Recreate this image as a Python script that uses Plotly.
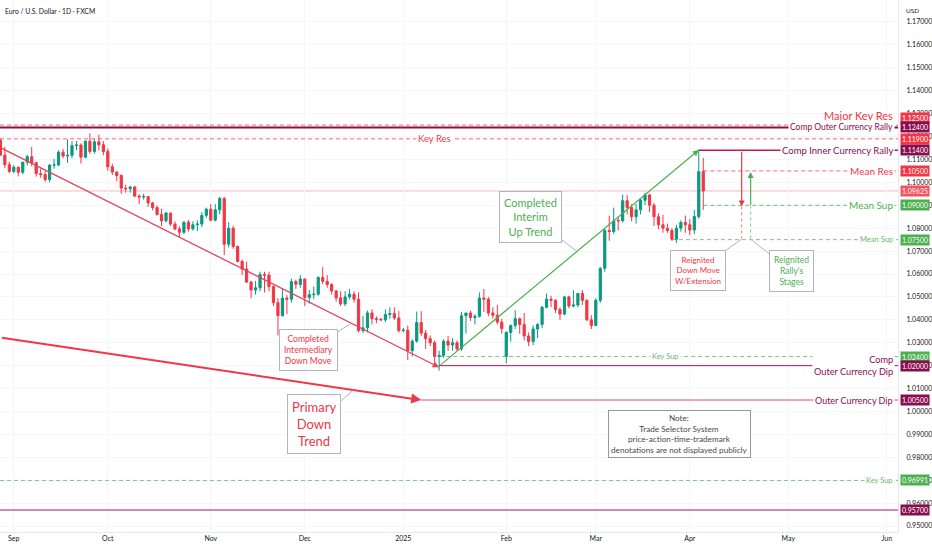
import pandas as pd
import plotly.graph_objects as go

# EUR/USD daily candles (FXCM), 27 Aug 2024 - 4 Apr 2025
opens = [
    1.1160, 1.1183, 1.1119, 1.1077,
    1.1048, 1.1066, 1.1044, 1.1088, 1.1112, 1.1086, 1.1038, 1.1034, 1.1012, 1.1075, 1.1076, 1.1132, 1.1115, 1.1118, 1.1160, 1.1163, 1.1110, 1.1180, 1.1135, 1.1177, 1.1164,
    1.1135, 1.1068, 1.1045, 1.1030, 1.0975, 1.0972, 1.0980, 1.0940, 1.0936, 1.0938, 1.0910, 1.0890, 1.0860, 1.0832, 1.0866, 1.0818, 1.0797, 1.0782, 1.0826, 1.0797, 1.0815, 1.0818, 1.0856,
    1.0883, 1.0835, 1.0880, 1.0930, 1.0730, 1.0800, 1.0720, 1.0655, 1.0622, 1.0565, 1.0530, 1.0540, 1.0598, 1.0595, 1.0545, 1.0475, 1.0418, 1.0495, 1.0490, 1.0567, 1.0555,
    1.0578, 1.0498, 1.0510, 1.0512, 1.0585, 1.0568, 1.0554, 1.0526, 1.0496, 1.0470, 1.0500, 1.0512, 1.0490, 1.0353, 1.0365, 1.0430, 1.0405, 1.0403, 1.0400, 1.0423, 1.0428, 1.0408,
    1.0353, 1.0355, 1.0265, 1.0307, 1.0388, 1.0342, 1.0318, 1.0300, 1.0240, 1.0245, 1.0307, 1.0290, 1.0300, 1.0273, 1.0418, 1.0430, 1.0410, 1.0415, 1.0495, 1.0490, 1.0430, 1.0420, 1.0390,
    1.0240, 1.0345, 1.0375, 1.0405, 1.0380, 1.0330, 1.0305, 1.0360, 1.0380, 1.0455, 1.0490, 1.0485, 1.0445, 1.0425, 1.0500, 1.0460, 1.0465, 1.0515, 1.0485, 1.0400,
    1.0375, 1.0485, 1.0625, 1.0790, 1.0785, 1.0835, 1.0832, 1.0920, 1.0890, 1.0850, 1.0880, 1.0922, 1.0945, 1.0900, 1.0850, 1.0815, 1.0800, 1.0790, 1.0752, 1.0800, 1.0825,
    1.0815, 1.0792, 1.0851, 1.1047,
]
highs = [
    1.1189, 1.1190, 1.1155, 1.1090,
    1.1075, 1.1070, 1.1090, 1.1120, 1.1155, 1.1090, 1.1060, 1.1050, 1.1080, 1.1102, 1.1140, 1.1146, 1.1188, 1.1180, 1.1180, 1.1170, 1.1182, 1.1214, 1.1190, 1.1209, 1.1180,
    1.1148, 1.1082, 1.1048, 1.1035, 1.0990, 1.0985, 1.0985, 1.0948, 1.0950, 1.0940, 1.0915, 1.0900, 1.0885, 1.0870, 1.0868, 1.0830, 1.0808, 1.0830, 1.0836, 1.0830, 1.0835, 1.0870, 1.0890,
    1.0905, 1.0905, 1.0937, 1.0935, 1.0826, 1.0810, 1.0725, 1.0663, 1.0654, 1.0570, 1.0570, 1.0610, 1.0610, 1.0610, 1.0550, 1.0495, 1.0537, 1.0508, 1.0580, 1.0576, 1.0595,
    1.0580, 1.0530, 1.0545, 1.0590, 1.0630, 1.0595, 1.0560, 1.0530, 1.0525, 1.0525, 1.0535, 1.0525, 1.0520, 1.0418, 1.0440, 1.0446, 1.0415, 1.0406, 1.0445, 1.0455, 1.0455, 1.0438,
    1.0365, 1.0375, 1.0315, 1.0436, 1.0438, 1.0356, 1.0332, 1.0310, 1.0265, 1.0315, 1.0330, 1.0320, 1.0310, 1.0435, 1.0430, 1.0440, 1.0425, 1.0520, 1.0535, 1.0500, 1.0455, 1.0465, 1.0405,
    1.0350, 1.0380, 1.0442, 1.0410, 1.0430, 1.0345, 1.0375, 1.0385, 1.0460, 1.0515, 1.0505, 1.0490, 1.0455, 1.0505, 1.0505, 1.0530, 1.0515, 1.0530, 1.0490, 1.0420,
    1.0495, 1.0630, 1.0800, 1.0855, 1.0890, 1.0850, 1.0947, 1.0945, 1.0905, 1.0905, 1.0930, 1.0955, 1.0950, 1.0910, 1.0865, 1.0858, 1.0820, 1.0800, 1.0815, 1.0835, 1.0855,
    1.0840, 1.0880, 1.1144, 1.1107,
]
lows = [
    1.1145, 1.1115, 1.1062, 1.1040,
    1.1040, 1.1026, 1.1035, 1.1075, 1.1070, 1.1025, 1.1020, 1.1002, 1.1000, 1.1060, 1.1070, 1.1105, 1.1085, 1.1105, 1.1140, 1.1082, 1.1105, 1.1125, 1.1125, 1.1140, 1.1118,
    1.1050, 1.1032, 1.1005, 1.0950, 1.0955, 1.0955, 1.0935, 1.0905, 1.0925, 1.0893, 1.0878, 1.0855, 1.0810, 1.0825, 1.0810, 1.0790, 1.0761, 1.0775, 1.0785, 1.0790, 1.0788, 1.0805, 1.0845,
    1.0830, 1.0830, 1.0860, 1.0682, 1.0716, 1.0710, 1.0650, 1.0595, 1.0560, 1.0495, 1.0510, 1.0525, 1.0520, 1.0525, 1.0460, 1.0332, 1.0415, 1.0425, 1.0475, 1.0535, 1.0540,
    1.0460, 1.0470, 1.0490, 1.0505, 1.0555, 1.0540, 1.0510, 1.0480, 1.0460, 1.0460, 1.0490, 1.0475, 1.0345, 1.0343, 1.0345, 1.0380, 1.0385, 1.0395, 1.0390, 1.0405, 1.0400, 1.0345,
    1.0345, 1.0225, 1.0240, 1.0300, 1.0330, 1.0273, 1.0285, 1.0215, 1.0178, 1.0235, 1.0265, 1.0265, 1.0265, 1.0265, 1.0340, 1.0395, 1.0380, 1.0410, 1.0435, 1.0415, 1.0405, 1.0380, 1.0340,
    1.0210, 1.0305, 1.0360, 1.0340, 1.0310, 1.0285, 1.0290, 1.0320, 1.0365, 1.0450, 1.0455, 1.0430, 1.0400, 1.0420, 1.0450, 1.0455, 1.0455, 1.0465, 1.0395, 1.0360,
    1.0375, 1.0475, 1.0610, 1.0745, 1.0775, 1.0790, 1.0825, 1.0860, 1.0830, 1.0820, 1.0860, 1.0900, 1.0870, 1.0810, 1.0795, 1.0780, 1.0780, 1.0745, 1.0735, 1.0785, 1.0780,
    1.0770, 1.0775, 1.0841, 1.0880,
]
closes = [
    1.1183, 1.1119, 1.1077, 1.1048,
    1.1066, 1.1044, 1.1088, 1.1112, 1.1086, 1.1038, 1.1034, 1.1012, 1.1075, 1.1076, 1.1132, 1.1115, 1.1118, 1.1160, 1.1163, 1.1110, 1.1180, 1.1135, 1.1177, 1.1164, 1.1135,
    1.1068, 1.1045, 1.1030, 1.0975, 1.0972, 1.0980, 1.0940, 1.0936, 1.0938, 1.0910, 1.0890, 1.0860, 1.0832, 1.0866, 1.0818, 1.0797, 1.0782, 1.0826, 1.0797, 1.0815, 1.0818, 1.0856, 1.0883,
    1.0835, 1.0880, 1.0930, 1.0730, 1.0800, 1.0720, 1.0655, 1.0622, 1.0565, 1.0530, 1.0540, 1.0598, 1.0595, 1.0545, 1.0475, 1.0418, 1.0495, 1.0490, 1.0567, 1.0555, 1.0578,
    1.0498, 1.0510, 1.0512, 1.0585, 1.0568, 1.0554, 1.0526, 1.0496, 1.0470, 1.0500, 1.0512, 1.0490, 1.0353, 1.0365, 1.0430, 1.0405, 1.0403, 1.0400, 1.0423, 1.0428, 1.0408, 1.0353,
    1.0355, 1.0265, 1.0307, 1.0388, 1.0342, 1.0318, 1.0300, 1.0240, 1.0245, 1.0307, 1.0290, 1.0300, 1.0273, 1.0418, 1.0430, 1.0410, 1.0415, 1.0495, 1.0490, 1.0430, 1.0420, 1.0390, 1.0362,
    1.0345, 1.0375, 1.0405, 1.0380, 1.0330, 1.0305, 1.0360, 1.0380, 1.0455, 1.0490, 1.0485, 1.0445, 1.0425, 1.0500, 1.0460, 1.0465, 1.0515, 1.0485, 1.0400, 1.0375,
    1.0485, 1.0625, 1.0790, 1.0785, 1.0832, 1.0832, 1.0920, 1.0890, 1.0850, 1.0880, 1.0922, 1.0945, 1.0900, 1.0850, 1.0815, 1.0800, 1.0790, 1.0752, 1.0800, 1.0825, 1.0815,
    1.0792, 1.0851, 1.1047, 1.09625,
]
dates = pd.bdate_range("2024-08-27", periods=len(closes))

# month ticks on the time axis
month_ticks = ["2024-09-02", "2024-10-01", "2024-11-01", "2024-12-02", "2025-01-01",
               "2025-02-03", "2025-03-03", "2025-04-01", "2025-05-01", "2025-06-02"]
month_labels = ["Sep", "Oct", "Nov", "Dec", "2025", "Feb", "Mar", "Apr", "May", "Jun"]

# horizontal levels
level_prices = [1.125, 1.124, 1.119, 1.114, 1.105, 1.09, 1.075, 1.024, 1.02, 1.005, 0.96991, 0.957]
level_names = ["Major Key Res", "Comp Outer Currency Rally", "Key Res", "Comp Inner Currency Rally",
               "Mean Res", "Mean Sup", "Mean Sup", "Key Sup", "Comp<br>Outer Currency Dip",
               "Outer Currency Dip", "Key Sup", ""]
level_starts = [None, None, None, "2025-04-03", "2025-04-04", "2025-04-04", "2025-03-26",
                "2025-01-13", "2025-01-13", "2025-01-07", None, None]

# trend lines (start date, start price, end date, end price)
intermediary_line = ["2024-08-28", 1.1152, "2025-01-13", 1.0193]
primary_line = ["2024-08-28", 1.0323, "2025-01-07", 1.0050]
interim_up_line = ["2025-01-13", 1.0198, "2025-04-03", 1.1141]
reignited_down = ["2025-04-16 14:00", 1.1140, 1.0895, 1.0755]
reignited_rally = ["2025-04-18 14:00", 1.0755, 1.0895, 1.1045]

RED = "#f23645"
MAROON = "#880e4f"
GREEN = "#4caf50"
UP = "#089981"
FONT = "Lato"
X_START = "2024-08-27 22:00"
X_END = "2025-06-04 12:00"

# (line colour, dash, width, label colour, label size, label x, axis box colour, box shift)
level_style = [
    ("rgba(242,54,69,0.75)", "4px,3px", 1, RED, 11, "top", RED, 7),
    ("#880e4f", "solid", 2, MAROON, 8.5, 0.997, MAROON, 0),
    ("rgba(242,54,69,0.75)", "4px,3px", 1, RED, 9.5, 0.484, RED, 0),
    ("#c2185b", "solid", 1.5, MAROON, 9.5, 0.997, MAROON, 0),
    ("rgba(242,54,69,0.75)", "4px,3px", 1, RED, 10, 0.997, RED, 0),
    ("rgba(76,175,80,0.8)", "4px,3px", 1, GREEN, 10, 0.997, GREEN, 0),
    ("rgba(120,140,125,0.7)", "4px,3px", 1, "#66bb6a", 7.5, 0.997, GREEN, 0),
    ("rgba(76,175,80,0.7)", "4px,3px", 1, "#66bb6a", 7.5, 0.741, GREEN, 0),
    ("#ad1457", "solid", 1, MAROON, 9.2, 0.997, MAROON, 0),
    ("#d9506a", "solid", 1, MAROON, 9, 0.997, MAROON, 0),
    ("rgba(76,175,80,0.7)", "4px,3px", 1, "#66bb6a", 7.5, 0.997, GREEN, 0),
    ("#ad1457", "solid", 1, MAROON, 9, 0.997, MAROON, 0),
]

fig = go.Figure()
fig.add_trace(go.Candlestick(
    x=dates, open=opens, high=highs, low=lows, close=closes,
    increasing=dict(line=dict(color=UP, width=1), fillcolor=UP),
    decreasing=dict(line=dict(color=RED, width=1), fillcolor=RED),
    whiskerwidth=0, showlegend=False, hoverinfo="skip",
))

shapes = []
annotations = []

# last price line
last = closes[-1]
shapes.append(dict(type="line", xref="paper", x0=0, x1=1, yref="y", y0=last, y1=last,
                   line=dict(color="rgba(242,54,69,0.35)", width=1), layer="below"))

for price, name, start, st in zip(level_prices, level_names, level_starts, level_style):
    lcol, dash, lw, tcol, tsize, tx, bcol, bshift = st
    if start is None:
        shapes.append(dict(type="line", xref="paper", x0=0, x1=1, yref="y", y0=price, y1=price,
                           line=dict(color=lcol, width=lw, dash=dash)))
    else:
        shapes.append(dict(type="line", xref="x", x0=start, x1=X_END, yref="y", y0=price, y1=price,
                           line=dict(color=lcol, width=lw, dash=dash)))
    if name:
        if tx == "top":
            annotations.append(dict(xref="paper", x=0.997, yref="y", y=price, text=name,
                                    xanchor="right", yanchor="bottom", yshift=1, showarrow=False,
                                    font=dict(family=FONT, size=tsize, color=tcol)))
        else:
            annotations.append(dict(xref="paper", x=tx, yref="y", y=price, text=name,
                                    xanchor="right" if tx > 0.9 else "center", yanchor="middle",
                                    align="right", showarrow=False, bgcolor="white", borderpad=1,
                                    font=dict(family=FONT, size=tsize, color=tcol)))
    annotations.append(dict(xref="paper", x=1, xshift=2, yref="y", y=price, yshift=bshift,
                            text=f"{price:.5f}", xanchor="left", yanchor="middle", showarrow=False,
                            bgcolor=bcol, borderpad=1,
                            font=dict(family=FONT, size=7, color="white")))

annotations.append(dict(xref="paper", x=1, xshift=2, yref="y", y=last, text=f"{last:.5f}",
                        xanchor="left", yanchor="middle", showarrow=False, bgcolor="#f7525f",
                        borderpad=1, font=dict(family=FONT, size=7, color="white")))

# trend lines with arrow heads
for line, col, w in [(intermediary_line, "#e8435a", 1.3), (primary_line, RED, 2),
                     (interim_up_line, GREEN, 1.2)]:
    annotations.append(dict(x=line[2], y=line[3], ax=line[0], ay=line[1], xref="x", yref="y",
                            axref="x", ayref="y", text="", showarrow=True, arrowhead=2,
                            arrowsize=1, arrowwidth=w, arrowcolor=col))

# reignited move arrows + dotted stages
annotations.append(dict(x=reignited_down[0], y=reignited_down[2], ax=reignited_down[0],
                        ay=reignited_down[1], xref="x", yref="y", axref="x", ayref="y", text="",
                        showarrow=True, arrowhead=2, arrowwidth=1.2, arrowcolor=RED))
shapes.append(dict(type="line", xref="x", yref="y", x0=reignited_down[0], x1=reignited_down[0],
                   y0=reignited_down[2], y1=reignited_down[3],
                   line=dict(color="rgba(242,54,69,0.7)", width=1, dash="dot")))
annotations.append(dict(x=reignited_rally[0], y=reignited_rally[3], ax=reignited_rally[0],
                        ay=reignited_rally[2], xref="x", yref="y", axref="x", ayref="y", text="",
                        showarrow=True, arrowhead=2, arrowwidth=1.2, arrowcolor=GREEN))
shapes.append(dict(type="line", xref="x", yref="y", x0=reignited_rally[0], x1=reignited_rally[0],
                   y0=reignited_rally[1], y1=reignited_rally[2],
                   line=dict(color="rgba(76,175,80,0.7)", width=1, dash="dot")))

# callouts
callouts = [
    ("2024-12-16", 1.0380, "Completed<br>Intermediary<br>Down Move", RED, 8.6, -41, 26),
    ("2025-02-24 18:00", 1.0700, "Completed<br>Interim<br>Up Trend", GREEN, 11, -46, -34),
    ("2024-12-16 18:00", 1.0092, "Primary<br>Down<br>Trend", RED, 13, -39, 34),
    ("2025-04-16 14:00", 1.0752, "Reignited<br>Down Move<br>W/Extension", RED, 8, -44, 31),
    ("2025-04-18 14:00", 1.0752, "Reignited<br>Rally's<br>Stages", GREEN, 8.5, 41, 32),
]
for cx, cy, txt, col, size, ax, ay in callouts:
    annotations.append(dict(x=cx, y=cy, xref="x", yref="y", text=txt, showarrow=True,
                            arrowhead=0, arrowwidth=1, arrowcolor="#b2b5be", ax=ax, ay=ay,
                            bgcolor="white", bordercolor="#b2b5be", borderwidth=1, borderpad=4,
                            font=dict(family=FONT, size=size, color=col)))

annotations.append(dict(x="2025-03-27 14:00", y=0.9901, xref="x", yref="y",
                        text="Note:<br>Trade Selector System<br>price-action-time-trademark<br>denotations are not displayed publicly",
                        showarrow=False, bgcolor="white", bordercolor="#9598a1", borderwidth=1,
                        borderpad=2, font=dict(family=FONT, size=8.2, color="#4a4a4a")))

# header texts
annotations.append(dict(xref="paper", yref="paper", x=0, xshift=3, y=1, yshift=-5,
                        xanchor="left", yanchor="top", showarrow=False,
                        text="Euro / U.S. Dollar · 1D · FXCM",
                        font=dict(family=FONT, size=6.8, color="#131722")))
annotations.append(dict(xref="paper", yref="paper", x=1, xshift=6, y=1, yshift=-5,
                        xanchor="left", yanchor="top", showarrow=False, text="USD",
                        font=dict(family=FONT, size=6.5, color="#131722")))

fig.update_layout(
    width=932, height=550,
    margin=dict(l=0, r=34, t=0, b=18),
    paper_bgcolor="white", plot_bgcolor="white",
    shapes=shapes, annotations=annotations,
    showlegend=False,
    xaxis=dict(
        range=[X_START, X_END], rangeslider=dict(visible=False),
        rangebreaks=[dict(bounds=["sat", "mon"])],
        tickvals=month_ticks, ticktext=month_labels, ticks="",
        tickfont=dict(family=FONT, size=7, color="#131722"),
        showgrid=True, gridcolor="#f5f6f8", showline=True, linecolor="#e6e8ee", zeroline=False,
    ),
    yaxis=dict(
        range=[0.9474, 1.1796], side="right", dtick=0.01, tick0=0.95, tickformat=".5f",
        ticks="", ticklabelstandoff=6,
        tickfont=dict(family=FONT, size=7, color="#131722"),
        showgrid=True, gridcolor="#f5f6f8", showline=True, linecolor="#e6e8ee", zeroline=False,
    ),
)

fig.write_html("out.html", config={"displayModeBar": False},
               post_script="document.body.style.margin='0';")
